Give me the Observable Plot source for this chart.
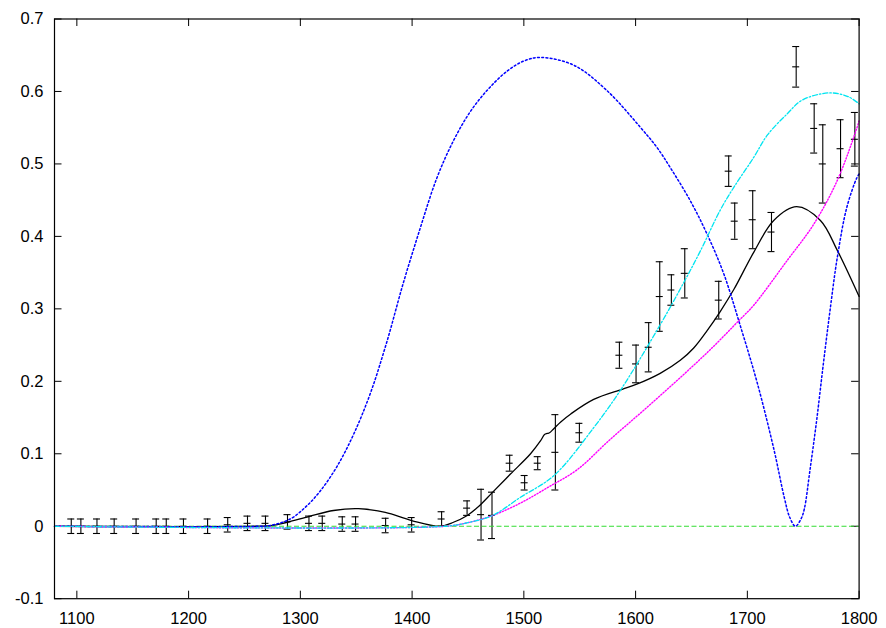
<!DOCTYPE html>
<html><head><meta charset="utf-8">
<script src="https://cdn.jsdelivr.net/npm/d3@7"></script>
<script src="https://cdn.jsdelivr.net/npm/@observablehq/plot@0.6"></script>
<style>html,body{margin:0;padding:0;background:#fff;}</style>
</head><body><div id="chart"></div>
<script>
// measured points with error bars
const pointX = [1095, 1103.6, 1118, 1133.4, 1153, 1171, 1180, 1195.4, 1217, 1235, 1252.7, 1268.8, 1288.5, 1307.7, 1319.6, 1337.5, 1349.4, 1376.3, 1399.6, 1426.4, 1449.2, 1461.7, 1471.5, 1487.3, 1500.7, 1512.4, 1528.2, 1549.7, 1585.5, 1600.4, 1611.7, 1621.6, 1632, 1644, 1674.4, 1683.3, 1688.7, 1704.8, 1721.6, 1743.7, 1759.8, 1767.5, 1783.4, 1796.2];
const pointY = [0, 0, 0, 0, 0, 0, 0, 0, 0, 0.002, 0.004, 0.004, 0.006, 0.004, 0.004, 0.003, 0.003, 0.001, 0.002, 0.010, 0.025, 0.016, 0.015, 0.087, 0.060, 0.087, 0.102, 0.129, 0.236, 0.224, 0.247, 0.317, 0.326, 0.349, 0.312, 0.490, 0.421, 0.423, 0.406, 0.634, 0.549, 0.500, 0.521, 0.534];
const pointErr = [0.01, 0.01, 0.01, 0.01, 0.01, 0.01, 0.01, 0.01, 0.01, 0.01, 0.01, 0.01, 0.01, 0.01, 0.01, 0.01, 0.01, 0.01, 0.01, 0.01, 0.01, 0.035, 0.032, 0.011, 0.010, 0.009, 0.052, 0.013, 0.018, 0.026, 0.034, 0.048, 0.021, 0.034, 0.026, 0.021, 0.025, 0.040, 0.027, 0.028, 0.034, 0.054, 0.040, 0.037];

// black solid curve
const blackX = [1080, 1260, 1275, 1288.5, 1307.7, 1329.7, 1352, 1376, 1399.6, 1425, 1437, 1449, 1460, 1471.5, 1488, 1506, 1515, 1518.5, 1521, 1523, 1527, 1533, 1542, 1562.5, 1588, 1601, 1622, 1640, 1652, 1664, 1676, 1688, 1705.7, 1723.6, 1744, 1765.4, 1780.4, 1800];
const blackY = [0, 0, 0.001, 0.0055, 0.0134, 0.0217, 0.0242, 0.019, 0.0079, 0, 0.0055, 0.0145, 0.028, 0.046, 0.072, 0.100, 0.118, 0.1265, 0.128, 0.129, 0.135, 0.144, 0.155, 0.175, 0.189, 0.196, 0.211, 0.229, 0.246, 0.27, 0.297, 0.327, 0.378, 0.422, 0.441, 0.422, 0.381, 0.317];

// blue dotted curve
const blueX = [1080, 1265, 1273, 1291, 1305, 1318, 1333, 1348, 1363, 1377.5, 1392, 1407, 1422, 1437, 1452, 1468, 1485, 1500, 1515, 1545, 1574.5, 1604, 1619, 1631, 1649, 1664, 1679, 1694, 1709, 1724, 1733, 1738, 1743, 1748, 1751, 1756, 1762, 1768, 1774, 1780.5, 1789, 1798, 1800];
const blueY = [0, 0, 0.001, 0.01, 0.027, 0.049, 0.083, 0.128, 0.185, 0.255, 0.335, 0.41, 0.48, 0.532, 0.572, 0.603, 0.628, 0.642, 0.647, 0.636, 0.601, 0.551, 0.523, 0.495, 0.449, 0.403, 0.348, 0.275, 0.197, 0.1045, 0.04, 0.012, 0, 0.01, 0.024, 0.077, 0.146, 0.224, 0.298, 0.371, 0.44, 0.481, 0.486];

// cyan dash-dot curve
const cyanX = [1080, 1430, 1450, 1471.5, 1497, 1527, 1562.5, 1587, 1622, 1643, 1658, 1676, 1688, 1705.7, 1718, 1735.6, 1749, 1773, 1790, 1800];
const cyanY = [0, 0, 0.005, 0.0145, 0.04, 0.07, 0.136, 0.189, 0.278, 0.336, 0.38, 0.437, 0.468, 0.509, 0.54, 0.569, 0.588, 0.598, 0.593, 0.583];

// magenta dotted curve
const magentaX = [1080, 1430, 1450, 1471.5, 1497, 1522, 1547.5, 1577.4, 1607.2, 1637, 1667, 1693.8, 1705.7, 1735.6, 1759.5, 1780.4, 1798.3, 1800];
const magentaY = [0, 0, 0.005, 0.0145, 0.032, 0.054, 0.0778, 0.12, 0.16, 0.201, 0.244, 0.286, 0.305, 0.3667, 0.417, 0.477, 0.551, 0.56];

// green dashed baseline
const greenY = [0];

const xTicks = [1100, 1200, 1300, 1400, 1500, 1600, 1700, 1800];
const yTicks = [-0.1, 0, 0.1, 0.2, 0.3, 0.4, 0.5, 0.6, 0.7];

const points = pointX.map((x, i) => ({x, y: pointY[i], lo: pointY[i] - pointErr[i], hi: pointY[i] + pointErr[i]}));
const rows = (xs, ys) => xs.map((x, i) => ({x, y: ys[i]}));

const W = 886, H = 628, mL = 54, mR = 27.4, mT = 18.5, mB = 29.8;
const innerH = H - mT - mB, innerW = W - mL - mR, tk = 7.5, cap = 3.5;

const chart = Plot.plot({
  width: W, height: H,
  marginLeft: mL, marginRight: mR, marginTop: mT, marginBottom: mB,
  style: {fontFamily: "'Liberation Sans', Arial, sans-serif", fontSize: "16.5px", background: "#fff", color: "#000", overflow: "visible"},
  x: {domain: [1080, 1800], label: null},
  y: {domain: [-0.1, 0.7], label: null},
  marks: [
    Plot.axisX(xTicks, {tickSize: 0, tickPadding: 13.5, tickFormat: d => String(d), label: null, fontSize: 16.5}),
    Plot.axisY(yTicks, {tickSize: 0, tickPadding: 11, tickFormat: d => d === 0 ? "0" : d.toFixed(1), label: null, fontSize: 16.5}),
    // inward ticks on all four sides
    Plot.ruleX(xTicks, {insetTop: innerH - tk, stroke: "#000"}),
    Plot.ruleX(xTicks, {insetBottom: innerH - tk, stroke: "#000"}),
    Plot.ruleY(yTicks, {insetRight: innerW - tk, stroke: "#000"}),
    Plot.ruleY(yTicks, {insetLeft: innerW - tk, stroke: "#000"}),
    // error bars
    Plot.ruleX(points, {x: "x", y1: "lo", y2: "hi", stroke: "#000", strokeWidth: 1.1}),
    Plot.ruleY(points, {y: "hi", x1: "x", x2: "x", insetLeft: -cap, insetRight: -cap, stroke: "#000", strokeWidth: 1.1}),
    Plot.ruleY(points, {y: "lo", x1: "x", x2: "x", insetLeft: -cap, insetRight: -cap, stroke: "#000", strokeWidth: 1.1}),
    Plot.ruleY(points, {y: "y", x1: "x", x2: "x", insetLeft: -cap, insetRight: -cap, stroke: "#000", strokeWidth: 1.1}),
    // curves
    Plot.line(rows(blackX, blackY), {x: "x", y: "y", stroke: "#000", strokeWidth: 1.3, curve: "catmull-rom"}),
    Plot.ruleY(greenY, {stroke: "#33dd33", strokeWidth: 1.2, strokeDasharray: "5,2.5"}),
    Plot.line(rows(blueX, blueY), {x: "x", y: "y", stroke: "#0000ff", strokeWidth: 1.5, strokeDasharray: "1.8,2.4", curve: "catmull-rom"}),
    Plot.line(rows(magentaX, magentaY), {x: "x", y: "y", stroke: "#ff00ff", strokeWidth: 1.4, strokeDasharray: "1.2,1.8", curve: "catmull-rom"}),
    Plot.line(rows(cyanX, cyanY), {x: "x", y: "y", stroke: "#00e4f0", strokeWidth: 1.3, strokeDasharray: "5,2,1.5,2", curve: "catmull-rom"}),
    Plot.frame({stroke: "#000", strokeWidth: 1.2})
  ]
});
document.getElementById("chart").appendChild(chart);
</script>
</body></html>
